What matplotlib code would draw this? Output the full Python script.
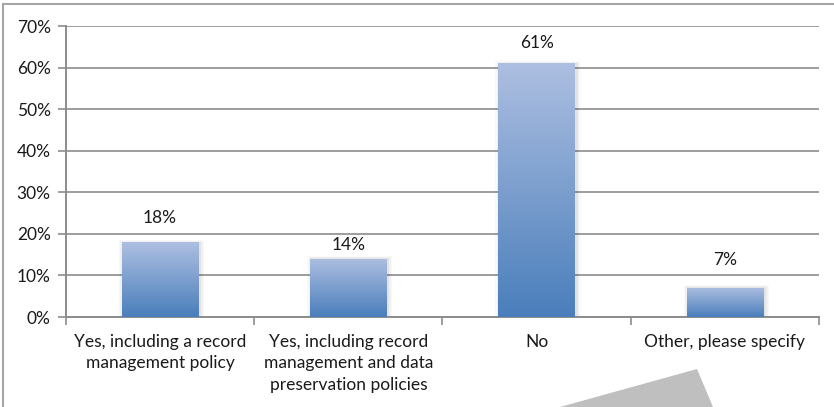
import numpy as np
import matplotlib.pyplot as plt
from matplotlib.patches import Rectangle, Polygon
from matplotlib.colors import LinearSegmentedColormap
from matplotlib.ticker import FuncFormatter, MultipleLocator, FixedLocator

# data
categories = ["Yes, including a record\nmanagement policy",
              "Yes, including record\nmanagement and data\npreservation policies",
              "No",
              "Other, please specify"]
values = [18, 14, 61, 7]
labels = ["18%", "14%", "61%", "7%"]
label_offsets = [24, 14, 20, 28]  # pixels above bar top, as placed in the source

plt.rcParams['font.family'] = ['Lato', 'DejaVu Sans']

fig = plt.figure(figsize=(8.34, 4.07), dpi=100)
ax = fig.add_axes([0.0791, 0.2211, 0.9029, 0.715])

# outer frame (top and left edges visible)
fig.add_artist(plt.Line2D([0.0036, 1.0], [0.990, 0.990], color='#a6a6a6', lw=1.5))
fig.add_artist(plt.Line2D([0.0036, 0.0036], [0.0, 0.990], color='#a6a6a6', lw=1.5))

# gray page-curl shape at the bottom
fig.add_artist(Polygon([[560 / 834, 0], [697 / 834, 1 - 369 / 407], [713 / 834, 0]],
                       closed=True, facecolor='#bfbfbf', edgecolor='none'))

x = np.arange(len(categories))
width = 0.405
cmap = LinearSegmentedColormap.from_list('grad', ['#4a7ebb', '#adbfe1'])
grad = np.linspace(0, 1, 256).reshape(-1, 1)

bars = ax.bar(x, values, width=width, color='none', zorder=3)
for b in bars:
    x0, y0 = b.get_x(), b.get_y()
    w, h = b.get_width(), b.get_height()
    # soft shadow
    for k, a in enumerate([0.025, 0.035, 0.05]):
        pad = 0.016 * (3 - k)
        ax.add_patch(Rectangle((x0 + 0.008 - pad / 2, y0), w + pad, h + 0.6 - k * 0.25,
                               facecolor='#000000', alpha=a, edgecolor='none', zorder=2.5))
    im = ax.imshow(grad, extent=[x0, x0 + w, y0, y0 + h], origin='lower',
                   aspect='auto', cmap=cmap, zorder=3)
    clip = Rectangle((x0, y0), w, h, transform=ax.transData)
    im.set_clip_path(clip)

for b, lab, off in zip(bars, labels, label_offsets):
    ax.annotate(lab, (b.get_x() + b.get_width() / 2, b.get_height()),
                xytext=(0, off), textcoords='offset pixels',
                ha='center', va='center', fontsize=12.5, color='#1a1a1a', zorder=5)

ax.set_xlim(-0.5, len(categories) - 0.5)
ax.set_ylim(0, 70)
ax.yaxis.set_major_locator(MultipleLocator(10))
ax.yaxis.set_major_formatter(FuncFormatter(lambda v, p: f"{v:.0f}%"))
ax.grid(axis='y', color='#8c8c8c', lw=1.2, zorder=1)
ax.set_axisbelow(True)

ax.set_xticks(x)
ax.set_xticklabels(categories, fontsize=12.5, linespacing=1.42, color='#1a1a1a')
ax.tick_params(axis='x', length=0, pad=12)
ax.xaxis.set_minor_locator(FixedLocator(np.arange(-0.5, len(categories), 1)))
ax.tick_params(axis='x', which='minor', length=6, color='#8c8c8c', width=1.2)
ax.tick_params(axis='y', length=6, color='#8c8c8c', width=1.2, labelsize=12.5,
               labelcolor='#1a1a1a', pad=5)

for s in ['top', 'right']:
    ax.spines[s].set_visible(False)
for s in ['left', 'bottom']:
    ax.spines[s].set_color('#8c8c8c')
    ax.spines[s].set_linewidth(1.4)

fig.savefig('out.png', dpi=100)
